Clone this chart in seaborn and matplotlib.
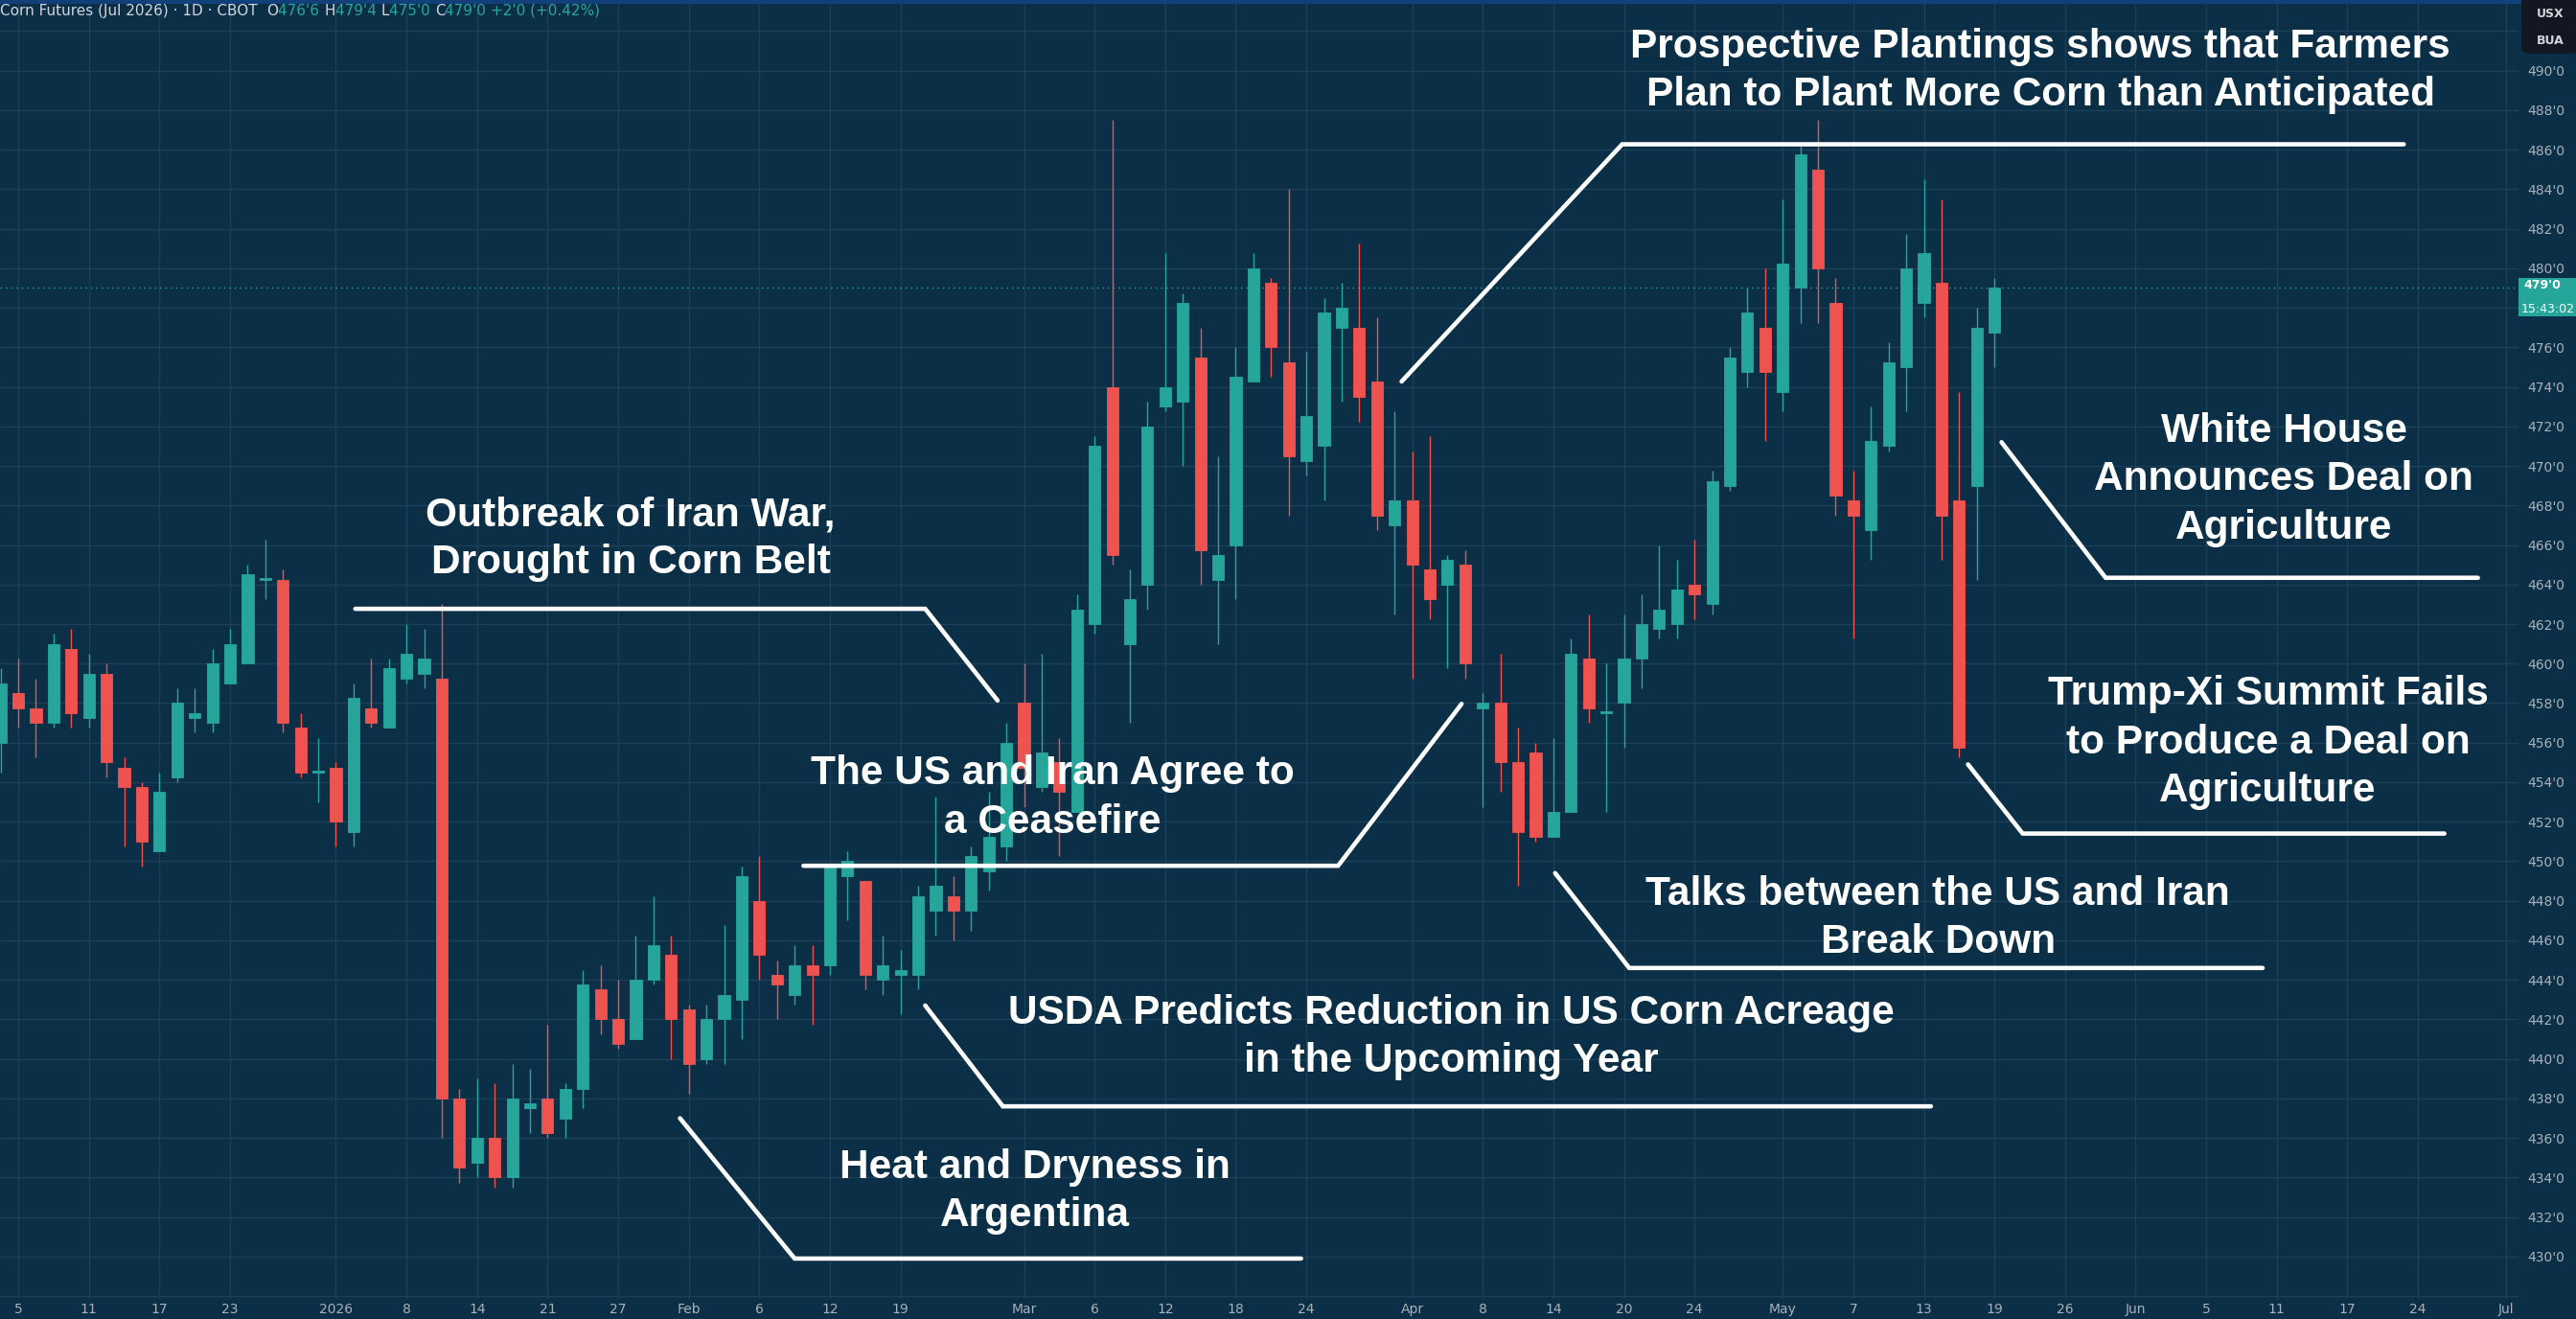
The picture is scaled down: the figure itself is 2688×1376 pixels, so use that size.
import numpy as np
import pandas as pd
import matplotlib
matplotlib.use("Agg")
import matplotlib.pyplot as plt
import matplotlib.transforms as mtransforms
from matplotlib.patches import Rectangle, FancyBboxPatch
import seaborn as sns

# ---------------- data ----------------
holidays = ["2025-12-25", "2026-01-01", "2026-01-19", "2026-02-16",
            "2026-04-03", "2026-05-25", "2026-06-19", "2026-07-03"]
first_session = "2025-12-04"

opens = [456.0, 458.5, 457.75, 457.0, 460.75, 457.25, 459.5, 454.75, 453.75, 450.5,
         454.25, 457.25, 457.0, 459.0, 460.0, 464.25, 464.25, 456.75, 454.5, 454.75,
         451.5, 457.75, 456.75, 459.25, 459.5, 459.25, 438.0, 434.75, 436.0, 434.0,
         437.5, 438.0, 437.0, 438.5, 443.5, 442.0, 441.0, 444.0, 445.25, 442.5,
         440.0, 442.0, 443.0, 448.0, 444.25, 443.25, 444.75, 444.75, 449.25, 449.0,
         444.0, 444.25, 444.25, 447.5, 448.25, 447.5, 449.5, 450.75, 458.0, 453.75,
         455.0, 452.5, 462.0, 474.0, 461.0, 464.0, 473.0, 473.25, 475.5, 464.25,
         466.0, 474.25, 479.25, 475.25, 470.25, 471.0, 477.0, 477.0, 474.25, 467.0,
         468.25, 464.75, 464.0, 465.0, 457.75, 458.0, 455.0, 455.5, 451.25, 452.5,
         460.25, 457.5, 458.0, 460.25, 461.75, 462.0, 464.0, 463.0, 469.0, 474.75,
         477.0, 473.75, 479.0, 485.0, 478.25, 468.25, 466.75, 471.0, 475.0, 478.25,
         479.25, 468.25, 469.0, 476.75]
highs = [459.75, 460.25, 459.25, 461.5, 461.75, 460.5, 460.0, 455.25, 454.0, 454.5,
         458.75, 458.75, 460.75, 461.75, 465.0, 466.25, 464.75, 457.5, 456.25, 455.0,
         459.0, 460.25, 460.25, 462.0, 461.75, 463.0, 438.5, 439.0, 438.75, 439.75,
         439.5, 441.75, 438.75, 444.5, 444.75, 444.0, 446.25, 448.25, 446.25, 442.75,
         442.75, 446.75, 449.75, 450.25, 445.0, 445.75, 445.75, 449.75, 450.5, 449.0,
         446.25, 445.5, 448.75, 453.25, 449.25, 450.75, 453.5, 457.0, 460.0, 460.5,
         456.25, 463.5, 471.5, 487.5, 464.75, 473.25, 480.75, 478.75, 477.0, 470.5,
         476.0, 480.75, 479.5, 484.0, 475.75, 478.5, 479.25, 481.25, 477.5, 472.75,
         470.75, 471.5, 465.5, 465.75, 458.5, 460.5, 456.75, 456.0, 456.25, 461.25,
         462.5, 460.0, 462.5, 463.5, 466.0, 465.25, 466.25, 469.75, 476.0, 479.0,
         480.0, 483.5, 486.25, 487.5, 479.5, 469.75, 473.0, 476.25, 481.75, 484.5,
         483.5, 473.75, 478.0, 479.5]
lows = [454.5, 456.75, 455.25, 456.75, 456.75, 456.75, 454.25, 450.75, 449.75, 450.5,
        454.0, 456.5, 456.5, 459.0, 460.0, 463.25, 456.5, 454.25, 453.0, 450.75,
        450.75, 456.75, 456.75, 459.0, 458.75, 436.0, 433.75, 434.0, 433.5, 433.5,
        436.25, 436.0, 436.0, 437.5, 441.25, 440.5, 441.0, 443.75, 440.0, 438.25,
        439.75, 439.75, 441.0, 444.0, 442.0, 442.75, 441.75, 444.25, 447.0, 443.5,
        443.25, 442.25, 443.5, 446.25, 446.0, 446.5, 448.5, 450.0, 452.75, 453.5,
        450.25, 452.5, 461.5, 465.0, 457.0, 462.75, 472.75, 470.0, 464.0, 461.0,
        463.25, 474.25, 474.5, 467.5, 469.5, 468.25, 473.25, 472.25, 466.75, 462.5,
        459.25, 462.25, 459.75, 459.25, 452.75, 453.5, 448.75, 451.0, 451.25, 452.5,
        457.0, 452.5, 455.75, 458.75, 461.25, 461.25, 462.25, 462.5, 468.75, 474.0,
        471.25, 472.75, 477.25, 477.25, 467.5, 461.25, 465.25, 470.75, 472.75, 477.5,
        465.25, 455.25, 464.25, 475.0]
closes = [459.0, 457.75, 457.0, 461.0, 457.5, 459.5, 455.0, 453.75, 451.0, 453.5,
          458.0, 457.5, 460.0, 461.0, 464.5, 464.25, 457.0, 454.5, 454.5, 452.0,
          458.25, 457.0, 459.75, 460.5, 460.25, 438.0, 434.5, 436.0, 434.0, 438.0,
          437.75, 436.25, 438.5, 443.75, 442.0, 440.75, 444.0, 445.75, 442.0, 439.75,
          442.0, 443.25, 449.25, 445.25, 443.75, 444.75, 444.25, 449.75, 450.0, 444.25,
          444.75, 444.5, 448.25, 448.75, 447.5, 450.25, 451.25, 456.0, 454.75, 455.5,
          453.5, 462.75, 471.0, 465.5, 463.25, 472.0, 474.0, 478.25, 465.75, 465.5,
          474.5, 480.0, 476.0, 470.5, 472.5, 477.75, 478.0, 473.5, 467.5, 468.25,
          465.0, 463.25, 465.25, 460.0, 458.0, 455.0, 451.5, 451.25, 452.5, 460.5,
          457.75, 457.5, 460.25, 462.0, 462.75, 463.75, 463.5, 469.25, 475.5, 477.75,
          474.75, 480.25, 485.75, 480.0, 468.5, 467.5, 471.25, 475.25, 480.0, 480.75,
          467.5, 455.75, 477.0, 479.0]

tick_dates = ["2025-12-05", "2025-12-11", "2025-12-17", "2025-12-23", "2026-01-02",
              "2026-01-08", "2026-01-14", "2026-01-21", "2026-01-27", "2026-02-02",
              "2026-02-06", "2026-02-12", "2026-02-19", "2026-03-02", "2026-03-06",
              "2026-03-12", "2026-03-18", "2026-03-24", "2026-04-01", "2026-04-08",
              "2026-04-14", "2026-04-20", "2026-04-24", "2026-05-01", "2026-05-07",
              "2026-05-13", "2026-05-19", "2026-05-26", "2026-06-01", "2026-06-05",
              "2026-06-11", "2026-06-17", "2026-06-24", "2026-07-01"]
tick_labels = ["5", "11", "17", "23", "2026", "8", "14", "21", "27", "Feb", "6", "12",
               "19", "Mar", "6", "12", "18", "24", "Apr", "8", "14", "20", "24", "May",
               "7", "13", "19", "26", "Jun", "5", "11", "17", "24", "Jul"]
price_ticks = list(range(428, 494, 2))

last_price = 479.0
header_main = "Corn Futures (Jul 2026) \u00b7 1D \u00b7 CBOT"
header_ohlc = [("O", "476'6"), ("H", "479'4"), ("L", "475'0"), ("C", "479'0")]
header_change = "+2'0 (+0.42%)"
countdown = "15:43:02"

# annotations: text, text anchor (session index, price), leader polyline
ann_texts = [
    "Prospective Plantings shows that Farmers\nPlan to Plant More Corn than Anticipated",
    "White House\nAnnounces Deal on\nAgriculture",
    "Trump-Xi Summit Fails\nto Produce a Deal on\nAgriculture",
    "Talks between the US and Iran\nBreak Down",
    "USDA Predicts Reduction in US Corn Acreage\nin the Upcoming Year",
    "Heat and Dryness in\nArgentina",
    "The US and Iran Agree to\na Ceasefire",
    "Outbreak of Iran War,\nDrought in Corn Belt",
]
ann_text_xy = [(114.6, 490.0), (128.4, 469.3), (127.5, 456.0), (108.8, 447.1),
               (81.2, 441.1), (57.6, 433.3), (58.6, 453.2), (34.7, 466.3)]
ann_lines = [
    [(78.4, 474.27), (90.9, 486.27), (135.2, 486.27)],
    [(112.4, 471.2), (118.3, 464.34), (139.4, 464.34)],
    [(110.5, 454.9), (113.6, 451.4), (137.5, 451.4)],
    [(87.1, 449.4), (91.3, 444.6), (127.2, 444.6)],
    [(51.4, 442.7), (55.8, 437.6), (108.4, 437.6)],
    [(37.5, 437.0), (44.0, 429.9), (72.7, 429.9)],
    [(44.5, 449.77), (74.8, 449.77), (81.8, 457.96)],
    [(19.1, 462.77), (51.4, 462.77), (55.5, 458.13)],
]

# ---------------- style ----------------
BG = "#0b2f46"
GRID = "#1b4058"
TEAL = "#26a69a"
RED = "#ef5350"
TICK = "#a9b1ba"

sns.set_theme(style="dark", rc={
    "axes.facecolor": BG, "figure.facecolor": BG, "axes.edgecolor": BG,
    "axes.grid": True, "grid.color": GRID, "grid.linewidth": 1.0,
    "xtick.color": TICK, "ytick.color": TICK,
})
plt.rcParams["font.family"] = ["DejaVu Sans"]

W, H = 2688, 1376
fig = plt.figure(figsize=(W / 100, H / 100), dpi=100)
plot_right = 2628
plot_bottom = 1355
ax = fig.add_axes([0, (H - plot_bottom) / H, plot_right / W, plot_bottom / H])

# trading calendar -> integer session positions
cal = pd.bdate_range(first_session, "2026-07-15", freq="C", holidays=holidays)
pos = {d: k - 1 for k, d in enumerate(cal)}
dates = cal[:len(opens)]
x = np.array([pos[d] for d in dates], dtype=float)

O = np.array(opens); Hh = np.array(highs); L = np.array(lows); C = np.array(closes)
up = C >= O
colors = np.where(up, TEAL, RED)

ax.vlines(x, L, Hh, colors=colors, linewidth=1.0, zorder=2)
bottoms = np.minimum(O, C)
heights = np.maximum(np.abs(C - O), 0.1)
ax.bar(x, heights, bottom=bottoms, width=0.66, color=colors, edgecolor=colors,
       linewidth=0.6, zorder=3)

# current price dotted line
ax.axhline(last_price, color=TEAL, linestyle=(0, (1, 3)), linewidth=1.0, zorder=1.5)

# axes limits / ticks
box_lo, box_hi = 477.56, 479.5
ax.set_xlim(-1.036, 141.7)
ax.set_ylim(427.86, 493.57)
ax.set_xticks([pos[pd.Timestamp(d)] for d in tick_dates])
ax.set_xticklabels(tick_labels)
ax.yaxis.tick_right()
ax.set_yticks(price_ticks)
# the label covered by the live-price marker on the price scale is left blank
ax.set_yticklabels([f"{v}'0" if (430 <= v <= 490 and not (box_lo <= v <= box_hi)) else ""
                    for v in price_ticks])
ax.tick_params(axis="x", length=0, pad=3, labelsize=10, colors=TICK)
ax.tick_params(axis="y", length=0, pad=7, labelsize=10, colors=TICK)
for s in ax.spines.values():
    s.set_visible(False)
ax.grid(True, color=GRID, linewidth=1.0)
ax.set_axisbelow(True)

# annotations
for txt, (tx, ty), pts in zip(ann_texts, ann_text_xy, ann_lines):
    xs, ys = zip(*pts)
    ax.plot(xs, ys, color="white", linewidth=3.3, solid_capstyle="round",
            solid_joinstyle="miter", zorder=5)
    ax.text(tx, ty, txt, ha="center", va="center", multialignment="center",
            fontsize=30.5, fontweight="bold", family=["Liberation Sans", "DejaVu Sans"],
            color="white", linespacing=1.33, zorder=6)

# current price label on the price scale
blend = mtransforms.blended_transform_factory(ax.transAxes, ax.transData)
box_w = (W - plot_right) / plot_right
ax.add_patch(Rectangle((1.0, box_lo), box_w, box_hi - box_lo, transform=blend,
                       facecolor=TEAL, edgecolor="none", clip_on=False, zorder=10))
ax.text(1.002, 479.15, f"{int(last_price)}'0", transform=blend, ha="left", va="center",
        fontsize=9, fontweight="bold", color="white", clip_on=False, zorder=11)
ax.text(1.001, 477.95, countdown, transform=blend, ha="left", va="center",
        fontsize=9, color="white", clip_on=False, zorder=11)

# top strip and header
fig.add_artist(Rectangle((0, 1 - 4 / H), 1, 4 / H, transform=fig.transFigure,
                         facecolor="#12407a", edgecolor="none", zorder=20))
fig.canvas.draw()
renderer = fig.canvas.get_renderer()
cur_x = 0.0
base_y = 1 - 16 / H
pieces = [(header_main + "  ", "#d1d4dc")]
for lab, val in header_ohlc:
    pieces.append((lab, "#d1d4dc"))
    pieces.append((val + " ", TEAL))
pieces.append((header_change, TEAL))
for s, col in pieces:
    t = fig.text(cur_x, base_y, s, ha="left", va="baseline", fontsize=11, color=col,
                 zorder=19)
    bb = t.get_window_extent(renderer=renderer)
    cur_x += bb.width / W

# USX / BUA box top-right
fig.add_artist(FancyBboxPatch((2631 / W, 1 - 56 / H), 60 / W, 60 / H,
                              boxstyle="round,pad=0,rounding_size=0.004",
                              transform=fig.transFigure, facecolor="#131722",
                              edgecolor="none", zorder=20))
fig.text(2661 / W, 1 - 15 / H, "USX", ha="center", va="center", fontsize=9,
         fontweight="bold", color="#d1d4dc", zorder=21)
fig.text(2661 / W, 1 - 42 / H, "BUA", ha="center", va="center", fontsize=9,
         fontweight="bold", color="#d1d4dc", zorder=21)

fig.savefig("out.png", dpi=100, facecolor=BG)
